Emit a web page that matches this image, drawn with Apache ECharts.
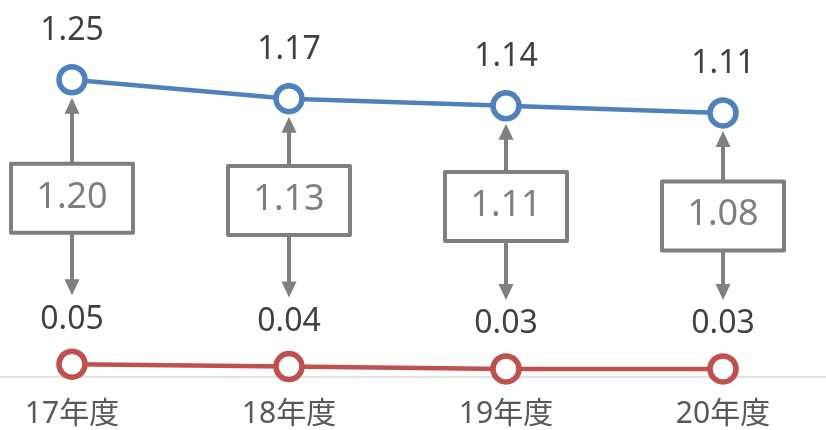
<!DOCTYPE html>
<html>
<head>
<meta charset="utf-8">
<script src="https://cdn.jsdelivr.net/npm/echarts@6/dist/echarts.min.js"></script>
<style>
html,body{margin:0;padding:0;background:#fff;}
#main{width:826px;height:430px;}
</style>
</head>
<body>
<div id="main"></div>
<script>
// ---- data ----
const categories = ['17年度', '18年度', '19年度', '20年度'];
const upperValues = [1.25, 1.17, 1.14, 1.11];
const lowerValues = [0.05, 0.04, 0.03, 0.03];
// ---- annotation layout (data units where gap boxes sit) ----
const gapBoxLevel = [0.75, 0.74, 0.715, 0.675];

const FONT = "'Noto Sans', 'Noto Sans CJK JP', sans-serif";
const BLUE = '#4f81bd';
const RED = '#c0504d';
const GRAY = '#7f7f7f';

const chart = echarts.init(document.getElementById('main'));

function renderGap(params, api) {
  const i = api.value(0);
  const top = api.coord([i, api.value(1)]);
  const bot = api.coord([i, api.value(2)]);
  const box = api.coord([i, api.value(3)]);
  const x = top[0];
  const bw = 122, bh = 69;
  const boxTop = box[1] - bh / 2, boxBottom = box[1] + bh / 2;
  const upTip = top[1] + 18;
  const downTip = bot[1] - 69;
  const hw = 7.5, hh = 16;
  const gapText = (api.value(1) - api.value(2)).toFixed(2);
  const lineStyle = { stroke: GRAY, lineWidth: 4 };
  return {
    type: 'group',
    children: [
      { type: 'line', shape: { x1: x, y1: boxTop, x2: x, y2: upTip + hh - 1 }, style: lineStyle },
      { type: 'polygon', shape: { points: [[x, upTip], [x - hw, upTip + hh], [x + hw, upTip + hh]] }, style: { fill: GRAY } },
      { type: 'line', shape: { x1: x, y1: boxBottom, x2: x, y2: downTip - hh + 1 }, style: lineStyle },
      { type: 'polygon', shape: { points: [[x, downTip], [x - hw, downTip - hh], [x + hw, downTip - hh]] }, style: { fill: GRAY } },
      { type: 'rect', shape: { x: x - bw / 2, y: boxTop, width: bw, height: bh },
        style: { fill: '#fff', stroke: GRAY, lineWidth: 4, lineJoin: 'round' } },
      { type: 'text', x: x, y: box[1] - 1,
        style: { text: gapText, fill: GRAY, font: '36px ' + FONT, align: 'center', verticalAlign: 'middle' } }
    ]
  };
}

chart.setOption({
  animation: false,
  backgroundColor: '#fff',
  grid: { left: 72, right: 103, top: 20.5, bottom: 54, containLabel: false },
  xAxis: {
    type: 'category',
    data: categories,
    boundaryGap: false,
    axisLine: { show: false },
    axisTick: { show: false },
    axisLabel: { interval: 0, fontSize: 30, color: '#595959', fontFamily: FONT, margin: 23 }
  },
  yAxis: {
    type: 'value', min: 0, max: 1.5,
    show: false,
    splitLine: { show: false }
  },
  series: [
    {
      type: 'custom',
      renderItem: renderGap,
      z: 1,
      encode: { x: 0, y: [1, 2, 3] },
      data: categories.map((c, i) => [i, upperValues[i], lowerValues[i], gapBoxLevel[i]])
    },
    {
      type: 'line', data: upperValues, z: 3,
      symbol: 'circle', symbolSize: 26,
      lineStyle: { color: BLUE, width: 4.5 },
      itemStyle: { color: '#fff', borderColor: BLUE, borderWidth: 5.5 },
      label: { show: true, position: 'top', distance: 17, fontSize: 32, color: '#404040', fontFamily: FONT,
               formatter: p => p.value.toFixed(2) }
    },
    {
      type: 'line', data: lowerValues, z: 3,
      symbol: 'circle', symbolSize: 26,
      lineStyle: { color: RED, width: 4.5 },
      itemStyle: { color: '#fff', borderColor: RED, borderWidth: 5.5 },
      label: { show: true, position: 'top', distance: 13, fontSize: 32, color: '#404040', fontFamily: FONT,
               formatter: p => p.value.toFixed(2) }
    }
  ]
});

const zeroY = chart.convertToPixel({ yAxisIndex: 0 }, 0) + 1;
chart.setOption({
  graphic: [{
    type: 'line', z: 0, silent: true,
    shape: { x1: 0, y1: zeroY, x2: 826, y2: zeroY },
    style: { stroke: '#d9d9d9', lineWidth: 1.5 }
  }]
});
</script>
</body>
</html>
